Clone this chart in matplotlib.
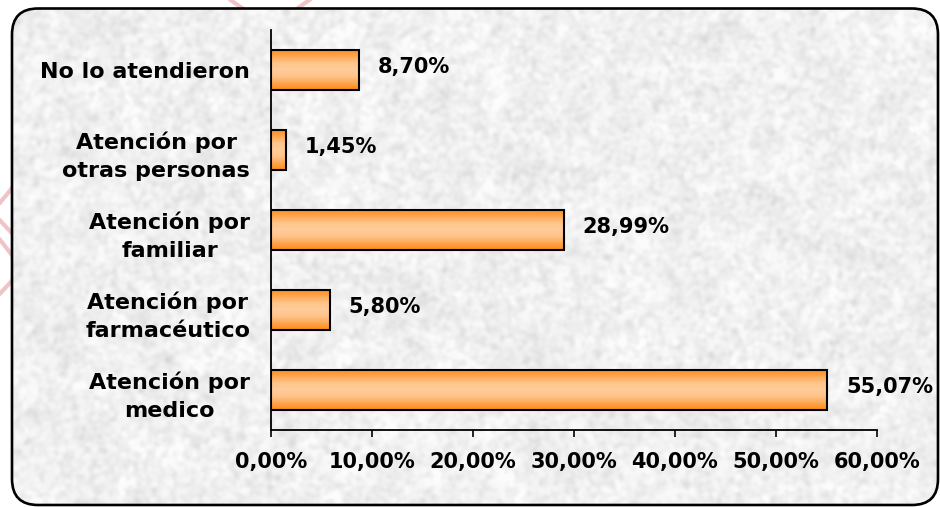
import numpy as np
import matplotlib
matplotlib.use('Agg')
from matplotlib import pyplot as plt
from matplotlib.patches import FancyBboxPatch
from matplotlib.colors import LinearSegmentedColormap

# datos de la encuesta
categorias = ['Atención por\nmedico', 'Atención por\nfarmacéutico', 'Atención por\nfamiliar',
              'Atención por\notras personas', 'No lo atendieron']
porcentajes = [55.07, 5.80, 28.99, 1.45, 8.70]
ticks_x = [0, 10, 20, 30, 40, 50, 60]

W, H = 940, 507
fig = plt.figure(figsize=(W/100, H/100), dpi=100)
fig.patch.set_facecolor('white')

# fondo en pixeles, con y hacia abajo
bg = fig.add_axes([0, 0, 1, 1])
bg.set_xlim(0, W)
bg.set_ylim(H, 0)
bg.axis('off')

# lineas rosadas de la marca de agua
rosa = '#efc4c8'
for (x0, y0, x1, y1) in [(222, -6, 262, 22), (318, -6, 278, 22),
                         (-6, 210, 22, 176), (-6, 214, 22, 244),
                         (-6, 232, 22, 268), (-6, 300, 22, 270)]:
    bg.plot([x0, x1], [y0, y1], color=rosa, lw=3.0, solid_capstyle='butt', zorder=1)

# textura gris tipo granito
rng = np.random.default_rng(7)
fy = np.fft.fftfreq(H)[:, None]
fx = np.fft.fftfreq(W)[None, :]
def suavizar(a, s):
    r = np.real(np.fft.ifft2(np.fft.fft2(a) * np.exp(-2 * (np.pi * s) ** 2 * (fx ** 2 + fy ** 2))))
    return r / r.std()
fino = suavizar(rng.normal(size=(H, W)), 2.2)
grueso = suavizar(rng.normal(size=(H, W)), 8)
gris = np.clip(0.94 + 0.019 * fino + 0.01 * grueso - 0.01 * np.clip(fino - 1.2, 0, None), 0.84, 0.985)

marco_clip = FancyBboxPatch((12, 8.5), 926, 496.5, boxstyle='round,pad=0,rounding_size=26',
                            fc='none', ec='none', zorder=0)
bg.add_patch(marco_clip)
im = bg.imshow(gris, extent=(0, W, H, 0), cmap='gray', vmin=0, vmax=1,
               aspect='auto', interpolation='bilinear', zorder=2)
im.set_clip_path(marco_clip)
marco = FancyBboxPatch((12, 8.5), 926, 496.5, boxstyle='round,pad=0,rounding_size=26',
                       fc='none', ec='black', lw=1.9, zorder=3)
bg.add_patch(marco)
bg.set_xlim(0, W)
bg.set_ylim(H, 0)

# grafico de barras
ax = fig.add_axes([271/W, 1 - 430/H, 606/W, 400/H])
ax.patch.set_alpha(0)

pos = np.arange(len(categorias))
barras = ax.barh(pos, porcentajes, height=0.51, facecolor='none', edgecolor='black',
                 linewidth=1.5, zorder=3)

naranja = LinearSegmentedColormap.from_list(
    'naranja', ['#ff8a18', '#ffa650', '#ffc48a', '#ffcc9a', '#ffc48a', '#ffa650', '#ff8a18'])
grad = np.linspace(0, 1, 100).reshape(-1, 1)
for b in barras:
    x0, y0 = b.get_x(), b.get_y()
    g = ax.imshow(grad, extent=(x0, x0 + b.get_width(), y0, y0 + b.get_height()),
                  cmap=naranja, aspect='auto', zorder=2, interpolation='bilinear')
    g.set_clip_path(b)

for p, v in zip(pos, porcentajes):
    ax.annotate(f'{v:.2f}%'.replace('.', ','), (v, p), xytext=(13.5, 2), textcoords='offset points',
                ha='left', va='center', fontsize=15, fontweight='bold')

ax.set_xlim(0, 60)
ax.set_ylim(-0.5, 4.5)
ax.set_xticks(ticks_x)
ax.set_xticklabels([f'{t},00%' for t in ticks_x], fontsize=15, fontweight='bold')
ax.set_yticks(pos)
ax.set_yticklabels(categorias, fontsize=16, fontweight='bold', linespacing=1.5)
for lab in ax.get_yticklabels():
    lab.set_multialignment('center')
ax.tick_params(axis='y', length=0, pad=15)
ax.tick_params(axis='x', length=5, width=1.2, direction='out', pad=11)

for s in ['top', 'right']:
    ax.spines[s].set_visible(False)
for s in ['left', 'bottom']:
    ax.spines[s].set_linewidth(1.3)

fig.savefig('out.png', dpi=100)
